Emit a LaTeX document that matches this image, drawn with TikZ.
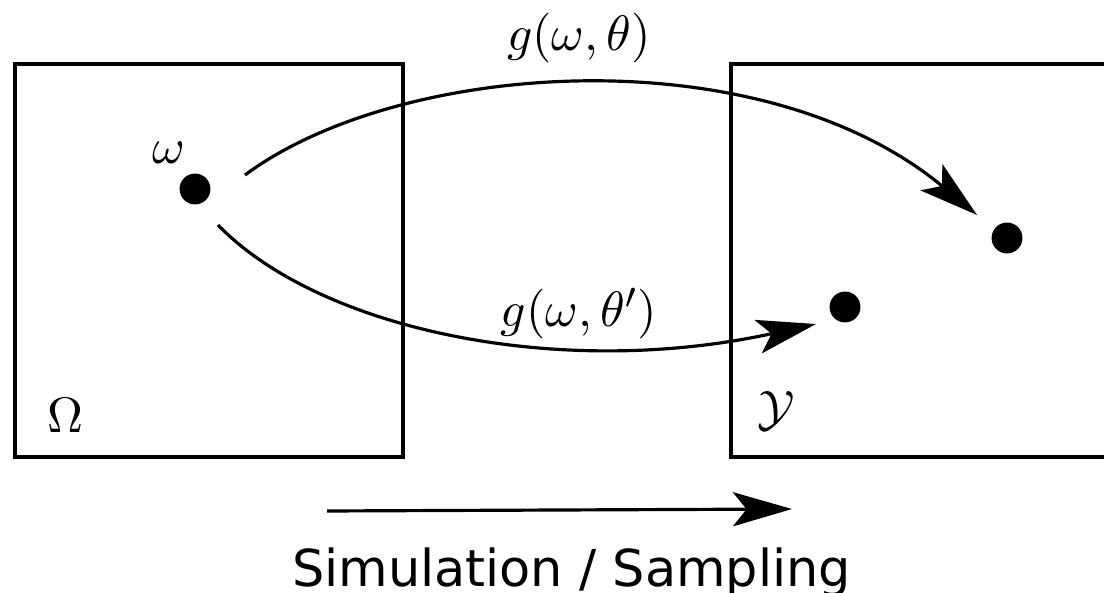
\documentclass[tikz,border=0pt]{standalone}
\usepackage{fontspec}
\newfontfamily\labelfont{DejaVu Sans}
\usetikzlibrary{arrows.meta}
\begin{document}
\begin{tikzpicture}[x=0.22pt,y=-0.22pt,
  boxline/.style={line width=0.7pt},
  arc/.style={line width=0.7pt,-{Stealth[length=13pt,width=7.5pt,inset=3pt]}},
  dot/.style={circle,fill=black,inner sep=0pt,minimum size=6.8pt},
  mlabel/.style={inner sep=0pt,font=\fontsize{11}{13}\selectfont}]
\useasboundingbox (0,0) rectangle (1104,593);
\clip (0,0) rectangle (1104,593);
% boxes
\draw[boxline] (15,64) rectangle (403,457);
\draw[boxline] (731,64) rectangle (1120,457);
% dots
\node[dot] (w) at (195,189) {};
\node[dot] (y1) at (1007,238) {};
\node[dot] (y2) at (845,307) {};
% labels
\node[mlabel] (wl) at (169,153) {$\omega$};
\node[mlabel,anchor=base] (Om) at (65,433) {$\Omega$};
\node[mlabel] (Yl) at (776,411) {$\mathcal{Y}$};
\node[mlabel] (g1) at (579,38) {$g(\omega,\theta)$};
\node[mlabel] (g2) at (579,314) {$g(\omega,\theta')$};
% curves
\coordinate (s1) at (245,175);
\coordinate (e1) at (977,215);
\coordinate (s2) at (218,225);
\coordinate (e2) at (816,324);
\draw[arc] (s1) .. controls (400,60) and (760,35) .. (e1);
\draw[arc] (s2) .. controls (320,330) and (560,380) .. (e2);
% bottom arrow
\coordinate (a1) at (327,511);
\coordinate (a2) at (792,509);
\draw[arc] (a1) -- (a2);
\node[anchor=base,inner sep=0pt,font=\labelfont\fontsize{11.2}{13}\selectfont] (sim) at (571.5,586) {Simulation / Sampling};
\end{tikzpicture}
\end{document}
